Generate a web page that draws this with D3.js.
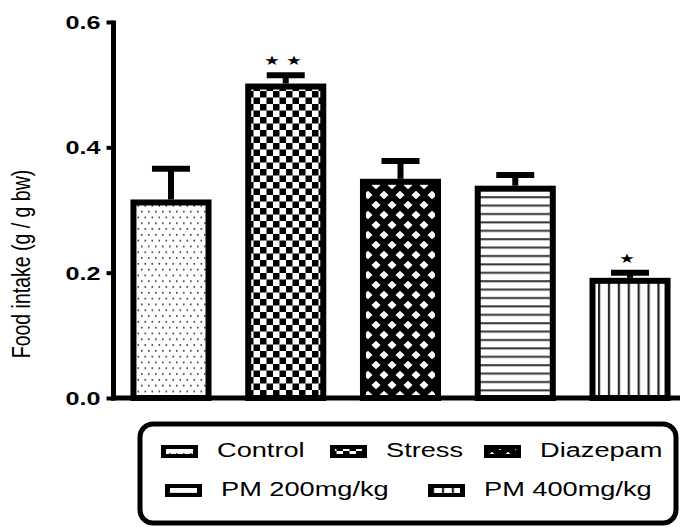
<!DOCTYPE html>
<html>
  <head>
    <meta charset="utf-8">
    <title>Food intake</title>
    <script src="https://d3js.org/d3.v7.min.js"></script>
    <style>
      body { margin: 0; background: #fff; }
      svg { display: block; font-family: "Liberation Sans", Arial, sans-serif; }
    </style>
  </head>
  <body>
    <div id="chart"></div>
    <script>
      // data
      var groups = ["Control", "Stress", "Diazepam", "PM 200mg/kg", "PM 400mg/kg"];
      var means = [0.312, 0.497, 0.345, 0.334, 0.187];
      var sems = [0.054, 0.018, 0.033, 0.022, 0.013];
      var stars = [0, 2, 0, 0, 1];
      var yTicks = [0.0, 0.2, 0.4, 0.6];
      var patternIds = ["dots", "checks", "diamonds", "hlines", "vlines"];

      var width = 680, height = 529;
      var sx = 1.36; // the original figure is stretched sideways

      var svg = d3.select("#chart").append("svg")
        .attr("width", width)
        .attr("height", height);

      // fill patterns
      var defs = svg.append("defs");
      var p = defs.append("pattern").attr("id", "dots").attr("patternUnits", "userSpaceOnUse")
        .attr("width", 7).attr("height", 11.6);
      p.append("rect").attr("width", 7).attr("height", 11.6).attr("fill", "#fff");
      p.append("rect").attr("x", 1).attr("y", 2).attr("width", 1.6).attr("height", 1.6).attr("fill", "#333");
      p.append("rect").attr("x", 4.5).attr("y", 7.8).attr("width", 1.6).attr("height", 1.6).attr("fill", "#333");

      p = defs.append("pattern").attr("id", "checks").attr("patternUnits", "userSpaceOnUse")
        .attr("width", 13).attr("height", 13);
      p.append("rect").attr("width", 13).attr("height", 13).attr("fill", "#fff");
      p.append("rect").attr("width", 6.5).attr("height", 6.5).attr("fill", "#000");
      p.append("rect").attr("x", 6.5).attr("y", 6.5).attr("width", 6.5).attr("height", 6.5).attr("fill", "#000");

      p = defs.append("pattern").attr("id", "diamonds").attr("patternUnits", "userSpaceOnUse")
        .attr("width", 16).attr("height", 20);
      p.append("rect").attr("width", 16).attr("height", 20).attr("fill", "#000");
      p.append("path")
        .attr("d", "M8,0.8L12.6,5L8,9.2L3.4,5Z M0,10.8L4.6,15L0,19.2L-4.6,15Z M16,10.8L20.6,15L16,19.2L11.4,15Z")
        .attr("fill", "#fff");

      p = defs.append("pattern").attr("id", "hlines").attr("patternUnits", "userSpaceOnUse")
        .attr("width", 10).attr("height", 8.4);
      p.append("rect").attr("width", 10).attr("height", 8.4).attr("fill", "#fff");
      p.append("rect").attr("y", 3).attr("width", 10).attr("height", 2).attr("fill", "#333");

      p = defs.append("pattern").attr("id", "vlines").attr("patternUnits", "userSpaceOnUse")
        .attr("width", 9.9).attr("height", 10);
      p.append("rect").attr("width", 9.9).attr("height", 10).attr("fill", "#fff");
      p.append("rect").attr("x", 4).attr("width", 2.2).attr("height", 10).attr("fill", "#222");

      // scales
      var x = d3.scaleBand()
        .domain(groups)
        .range([113.6, 687.4])
        .paddingInner(0.346)
        .paddingOuter(0.173);
      var y = d3.scaleLinear()
        .domain([0, 0.6])
        .range([398, 22]);

      var axisX = 113.5;

      // bars
      var bars = svg.append("g").selectAll("g")
        .data(groups)
        .enter().append("g");
      bars.append("rect")
        .attr("x", function(d) { return x(d); })
        .attr("y", function(d, i) { return y(means[i]); })
        .attr("width", x.bandwidth())
        .attr("height", function(d, i) { return y(0) - y(means[i]); })
        .attr("fill", function(d, i) { return "url(#" + patternIds[i] + ")"; })
        .attr("stroke", "#000")
        .attr("stroke-width", 6);
      // error bars (upper only)
      bars.append("line")
        .attr("x1", function(d) { return x(d) + x.bandwidth() / 2; })
        .attr("x2", function(d) { return x(d) + x.bandwidth() / 2; })
        .attr("y1", function(d, i) { return y(means[i]) - 3; })
        .attr("y2", function(d, i) { return y(means[i] + sems[i]); })
        .attr("stroke", "#000")
        .attr("stroke-width", 6);
      bars.append("line")
        .attr("x1", function(d) { return x(d) + x.bandwidth() / 2 - 19; })
        .attr("x2", function(d) { return x(d) + x.bandwidth() / 2 + 19; })
        .attr("y1", function(d, i) { return y(means[i] + sems[i]); })
        .attr("y2", function(d, i) { return y(means[i] + sems[i]); })
        .attr("stroke", "#000")
        .attr("stroke-width", 6);
      // significance stars
      bars.append("text")
        .attr("transform", function(d, i) {
          return "translate(" + (x(d) + x.bandwidth() / 2) + "," + (y(means[i] + sems[i]) - 10) + ") scale(" + sx + ",1)";
        })
        .attr("text-anchor", "middle")
        .attr("font-size", 13)
        .attr("letter-spacing", 4)
        .text(function(d, i) { return stars[i] ? d3.range(stars[i]).map(function() { return "\u2605"; }).join("") : ""; });

      // x axis line
      svg.append("line")
        .attr("x1", axisX - 2.5)
        .attr("x2", width)
        .attr("y1", y(0))
        .attr("y2", y(0))
        .attr("stroke", "#000")
        .attr("stroke-width", 5);

      // y axis
      var gy = svg.append("g")
        .attr("transform", "translate(" + axisX + ",0)")
        .call(d3.axisLeft(y).tickValues(yTicks).tickFormat(d3.format(".1f")).tickSize(7).tickSizeOuter(0));
      gy.select(".domain").attr("stroke-width", 5).attr("d", "M0," + (y(0) + 2.5) + "V" + (y(0.6) - 1.5));
      gy.selectAll(".tick line").attr("stroke-width", 4);
      gy.selectAll(".tick text")
        .attr("font-family", "'Liberation Sans', Arial, sans-serif")
        .attr("font-size", 18.5)
        .attr("font-weight", "bold")
        .attr("fill", "#000")
        .attr("x", -13 / sx)
        .attr("dy", "0.36em")
        .attr("transform", "scale(" + sx + ",1)");

      // y axis title
      svg.append("text")
        .attr("transform", "translate(30,264) scale(" + sx + ",1) rotate(-90)")
        .attr("text-anchor", "middle")
        .attr("font-size", 19.5)
        .attr("fill", "#000")
        .text("Food intake (g / g bw)");

      // legend
      var legend = svg.append("g");
      legend.append("rect")
        .attr("x", 140).attr("y", 424)
        .attr("width", 536).attr("height", 99)
        .attr("rx", 13)
        .attr("fill", "none")
        .attr("stroke", "#000")
        .attr("stroke-width", 5);
      var legendPos = [[161, 451], [330, 451], [484, 451], [165, 490], [428, 490]];
      var items = legend.selectAll(".item")
        .data(groups)
        .enter().append("g")
          .attr("class", "item")
          .attr("transform", function(d, i) { return "translate(" + legendPos[i][0] + "," + legendPos[i][1] + ")"; });
      items.append("rect")
        .attr("x", 0).attr("y", -6)
        .attr("width", 37).attr("height", 13)
        .attr("fill", "#000");
      items.append("rect")
        .attr("x", 5).attr("y", -2)
        .attr("width", 27).attr("height", 5)
        .attr("fill", function(d, i) { return "url(#" + patternIds[i] + ")"; });
      items.append("text")
        .attr("transform", "translate(56,6) scale(" + sx + ",1)")
        .attr("font-size", 20)
        .attr("fill", "#000")
        .text(function(d) { return d; });
    </script>
  </body>
</html>
